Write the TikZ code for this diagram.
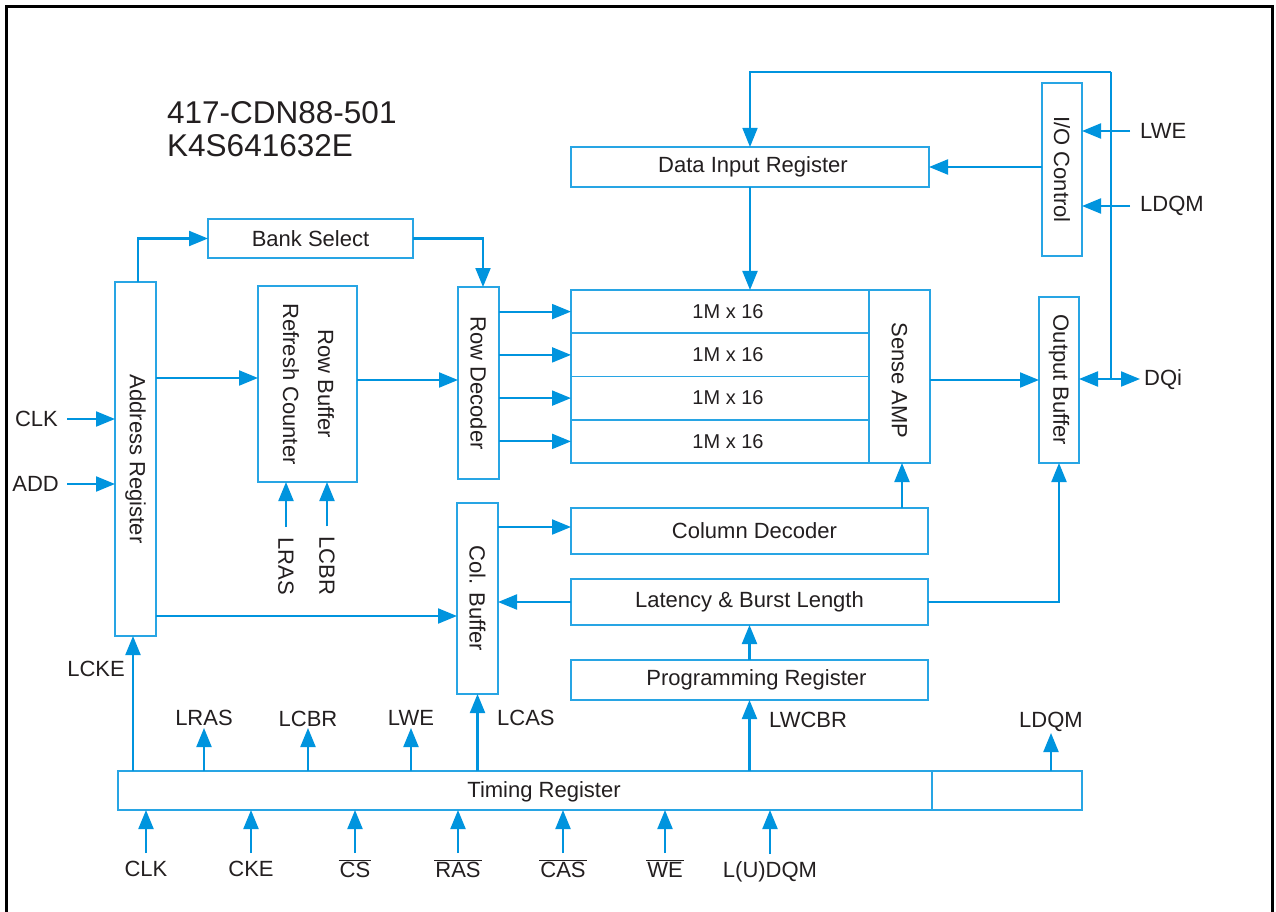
\documentclass[tikz,border=0pt]{standalone}
\usepackage{fontspec}
\setmainfont{Liberation Sans}
\usetikzlibrary{arrows.meta}
\definecolor{lineblue}{RGB}{0,148,222}
\definecolor{boxblue}{RGB}{40,165,228}
\definecolor{txtc}{RGB}{35,31,32}
\newcommand\ovl[1]{$\overline{\mbox{\kern1pt#1\kern1pt}}$}
\begin{document}
\begin{tikzpicture}[x=1pt,y=-1pt,
  font=\fontsize{22}{25}\selectfont, text=txtc,
  box/.style={draw=boxblue, line width=1.6pt, inner sep=0pt, outer sep=0pt, anchor=center},
  conn/.style={draw=lineblue, line width=2.1pt, -{Triangle[length=19pt,width=15pt]}},
  dconn/.style={draw=lineblue, line width=2.1pt, {Triangle[length=19pt,width=15pt]}-{Triangle[length=19pt,width=15pt]}},
  plain/.style={draw=lineblue, line width=1.6pt},
  thinconn/.style={draw=lineblue, line width=1.6pt, -{Triangle[length=19pt,width=15pt]}},
  lab/.style={inner sep=0pt, text=txtc},
  vlab/.style={inner sep=0pt, text=txtc, rotate=-90, align=center}]
\useasboundingbox (0,0) rectangle (1276,912);
\fill[white] (0,0) rectangle (1276,912);
% frame
\draw[line width=3pt, black] (6,914) -- (6,7) -- (1272,7) -- (1272,914);

% title
\node[lab, anchor=base west, font=\fontsize{31.5}{34}\selectfont] (t1) at (167,124) {417-CDN88-501};
\node[lab, anchor=base west, font=\fontsize{31.5}{34}\selectfont] (t2) at (167,157) {K4S641632E};

% level coordinates
\coordinate (l378) at (0,378);
\coordinate (l380) at (0,380);
\coordinate (l616) at (0,616);
\coordinate (l527) at (0,527);
\coordinate (tr) at (1111,72);
\coordinate (jn) at (1111,379);

% boxes
\node[box, minimum width=205, minimum height=39] (bank) at (310.5,238.5) {Bank Select};
\node[box, minimum width=41, minimum height=354] (addr) at (135.5,459) {};
\node[vlab] at (addr.center) {Address Register};
\node[box, minimum width=99, minimum height=196] (rbuf) at (307.5,384) {};
\node[vlab, font=\fontsize{22}{35}\selectfont] at ([xshift=1pt]rbuf.center) {Row Buffer\\Refresh Counter};
\node[box, minimum width=41, minimum height=192] (rdec) at (478.5,383) {};
\node[vlab] at (rdec.center) {Row Decoder};
\node[box, minimum width=41, minimum height=191] (colbuf) at (477.5,598.5) {};
\node[vlab] at (colbuf.center) {Col. Buffer};

\node[box, minimum width=298, minimum height=43.25, font=\fontsize{20}{22}\selectfont] (r1) at (720,311.6) {\hspace*{16pt}1M x 16};
\node[box, minimum width=298, minimum height=43.25, font=\fontsize{20}{22}\selectfont] (r2) at (720,354.9) {\hspace*{16pt}1M x 16};
\node[box, minimum width=298, minimum height=43.25, font=\fontsize{20}{22}\selectfont] (r3) at (720,398.1) {\hspace*{16pt}1M x 16};
\node[box, minimum width=298, minimum height=43.25, font=\fontsize{20}{22}\selectfont] (r4) at (720,441.4) {\hspace*{16pt}1M x 16};
\node[box, minimum width=61, minimum height=173] (sense) at (899.5,376.5) {};
\node[vlab] at ([yshift=-4pt]sense.center) {Sense AMP};

\node[box, minimum width=358, minimum height=40] (din) at (750,167) {\hspace*{6pt}Data Input Register};
\node[box, minimum width=40, minimum height=173] (io) at (1062,169.5) {};
\node[vlab] at (io.center) {I/O Control};
\node[box, minimum width=40, minimum height=166] (obuf) at (1059,380) {};
\node[vlab] at (obuf.center) {Output Buffer};

\node[box, minimum width=357, minimum height=46] (coldec) at (749.5,531) {\hspace*{10pt}Column Decoder};
\node[box, minimum width=357, minimum height=46] (lat) at (749.5,602) {Latency \& Burst Length};
\node[box, minimum width=357, minimum height=40] (prog) at (749.5,680) {\hspace*{14pt}Programming Register};

\node[box, minimum width=814, minimum height=39] (timing) at (525,790.5) {};
\node[box, minimum width=150, minimum height=39] (timing2) at (1007,790.5) {};
\node[lab] (tlabel) at (544,792) {Timing Register};

% labels
\node[lab, anchor=east] (clk) at (58,419) {CLK};
\node[lab, anchor=east] (add) at (59,484) {ADD};
\node[vlab] (lras2) at (286,566) {LRAS};
\node[vlab] (lcbr2) at (327,566) {LCBR};
\node[lab, anchor=west] (lwe) at (1140,131) {LWE};
\node[lab, anchor=west] (ldqm) at (1140,206) {LDQM};
\node[lab, anchor=west] (dqi) at (1144,380) {DQi};

\node[lab, anchor=base east] (lcke) at (125,676) {LCKE};
\node[lab, anchor=base] (tlras) at (204,725) {LRAS};
\node[lab, anchor=base] (tlcbr) at (308,726) {LCBR};
\node[lab, anchor=base] (tlwe) at (411,725) {LWE};
\node[lab, anchor=base west] (tlcas) at (497,725) {LCAS};
\node[lab, anchor=base west] (tlwcbr) at (769,727) {LWCBR};
\node[lab, anchor=base] (tldqm) at (1051,727) {LDQM};

\node[lab, anchor=base] (bclk) at (146,876) {CLK};
\node[lab, anchor=base] (bcke) at (251,876) {CKE};
\node[lab, anchor=base] (bcs) at (355,877) {\ovl{CS}};
\node[lab, anchor=base] (bras) at (458,877) {\ovl{RAS}};
\node[lab, anchor=base] (bcas) at (563,877) {\ovl{CAS}};
\node[lab, anchor=base] (bwe) at (665,877) {\ovl{WE}};
\node[lab, anchor=base] (bldqm) at (770,877) {L(U)DQM};

% connectors
\draw[conn] ([xshift=2.5pt]addr.north) |- (bank.west);
\draw[conn] (bank.east) -| ([xshift=4.5pt]rdec.north);
\draw[conn] (addr.east |- l378) -- (rbuf.west |- l378);
\draw[conn] (rbuf.east |- l380) -- (rdec.west |- l380);
\draw[conn] (rdec.east |- r1.west) -- (r1.west);
\draw[conn] (rdec.east |- r2.west) -- (r2.west);
\draw[conn] (rdec.east |- r3.west) -- (r3.west);
\draw[conn] (rdec.east |- r4.west) -- (r4.west);
\draw[conn] (addr.east |- l616) -- (colbuf.west |- l616);
\draw[conn] ([xshift=9pt]clk.east) -- (clk.east -| addr.west);
\draw[conn] ([xshift=8pt]add.east) -- (add.east -| addr.west);
\draw[conn] ([yshift=10pt]lras2.west) -- (lras2.west |- rbuf.south);
\draw[conn] ([yshift=10pt]lcbr2.west) -- (lcbr2.west |- rbuf.south);

\draw[conn] (din.south) -- (din.south |- r1.north);
\draw[plain] (jn) -- (tr);
\draw[thinconn] (tr) -| (din.north);
\draw[conn] (io.west |- din.east) -- (din.east);
\draw[conn] ([xshift=-10pt]lwe.west) -- (lwe.west -| io.east);
\draw[conn] ([xshift=-10pt]ldqm.west) -- (ldqm.west -| io.east);
\draw[conn] (sense.east |- obuf.west) -- (obuf.west);
\draw[dconn] (obuf.east |- jn) -- ([xshift=-4pt]jn -| dqi.west);

\draw[conn] (colbuf.east |- l527) -- (coldec.west |- l527);
\draw[conn] ([xshift=2.5pt]sense.south |- coldec.north) -- ([xshift=2.5pt]sense.south);
\draw[conn] (lat.west) -- (lat.west -| colbuf.east);
\draw[conn] (lat.east) -| (obuf.south);
\draw[conn] (prog.north) -- (lat.south);

\draw[conn] ([xshift=-2.5pt]addr.south |- timing.north) -- ([xshift=-2.5pt]addr.south);
\draw[conn] (tlras.base |- timing.north) -- ([yshift=-3pt]tlras.base);
\draw[conn] (tlcbr.base |- timing.north) -- ([yshift=-2pt]tlcbr.base);
\draw[conn] (tlwe.base |- timing.north) -- ([yshift=-3pt]tlwe.base);
\draw[conn] (colbuf.south |- timing.north) -- (colbuf.south);
\draw[conn] (prog.south |- timing.north) -- (prog.south);
\draw[conn] (tldqm.base |- timing2.north) -- ([yshift=-6pt]tldqm.base);

\draw[conn] ([yshift=23pt]bclk.base) -- (bclk.base |- timing.south);
\draw[conn] ([yshift=23pt]bcke.base) -- (bcke.base |- timing.south);
\draw[conn] ([yshift=24pt]bcs.base) -- (bcs.base |- timing.south);
\draw[conn] ([yshift=24pt]bras.base) -- (bras.base |- timing.south);
\draw[conn] ([yshift=24pt]bcas.base) -- (bcas.base |- timing.south);
\draw[conn] ([yshift=24pt]bwe.base) -- (bwe.base |- timing.south);
\draw[conn] ([yshift=23pt]bldqm.base) -- (bldqm.base |- timing.south);
\end{tikzpicture}
\end{document}
